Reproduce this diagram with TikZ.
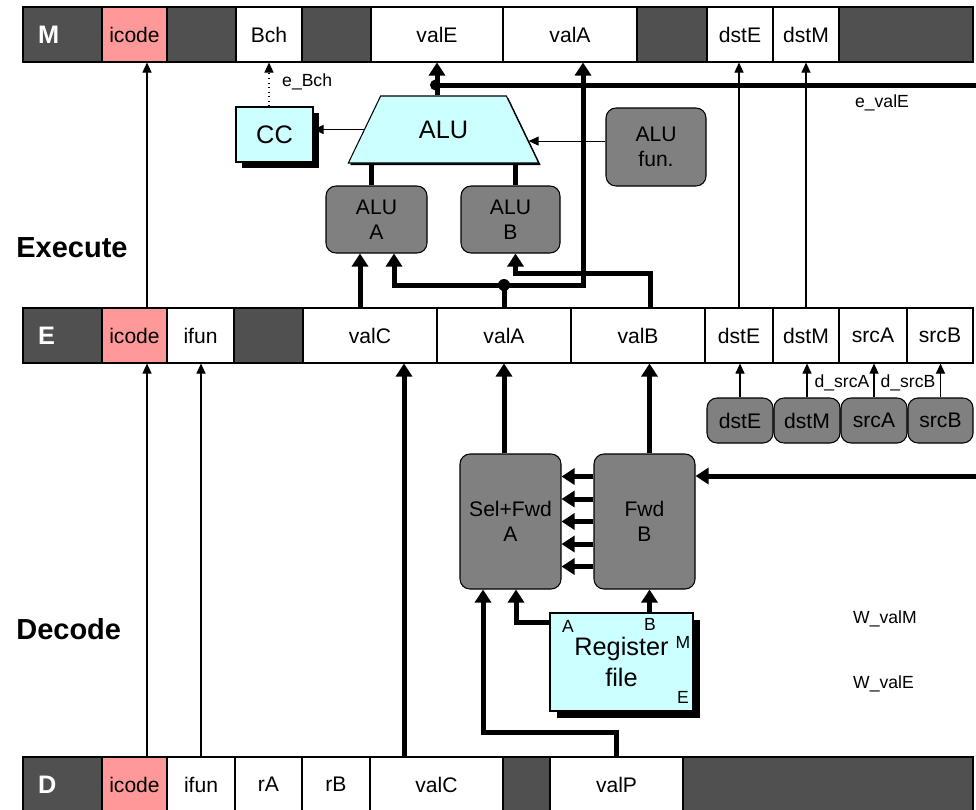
\documentclass[tikz,border=0pt]{standalone}
\usepackage{fontspec}
\setmainfont{Liberation Sans}
\usetikzlibrary{arrows.meta,shapes.geometric,shadows,calc}

\definecolor{regdark}{HTML}{505050}
\definecolor{regpink}{HTML}{FF9999}
\definecolor{logicgray}{HTML}{808080}
\definecolor{hwcyan}{HTML}{CCFFFF}

\begin{document}
\begin{tikzpicture}[
    x=0.2mm, y=-0.2mm,
    cell/.style={rectangle, draw=black, line width=0.6pt, fill=white, minimum height=11mm, inner sep=0pt, font=\large},
    darkcell/.style={cell, fill=regdark},
    pinkcell/.style={cell, fill=regpink},
    stage/.style={cell, fill=regdark, text=white, font=\Large\bfseries, text width=9.8mm, align=left, minimum width=15.8mm},
    logic/.style={rectangle, draw=black, line width=0.6pt, fill=logicgray, rounded corners=2mm, inner sep=0pt, align=center, font=\large},
    hw/.style={rectangle, draw=black, line width=0.6pt, fill=hwcyan, inner sep=0pt, align=center, font=\Large},
    sig/.style={line width=0.6pt, -{Triangle[width=1.8mm,length=2mm]}},
    bus/.style={line width=1mm, -{Triangle[width=3.2mm,length=2.6mm]}},
    wire/.style={line width=1mm},
    tag/.style={font=\normalsize, inner sep=0.5pt},
    phase/.style={font=\fontsize{16.5}{20}\selectfont\bfseries, anchor=west, inner sep=0pt}
]

% Background / page size
\path[use as bounding box, fill=white] (0,0) rectangle (976,809);

% M register
\node[stage] (Mlab) at (62.5,34.5) {M};
\node[pinkcell, minimum width=13mm] (Micode) at (134.5,34.5) {icode};
\node[darkcell, minimum width=13.8mm] (Mx1) at (201.5,34.5) {};
\node[cell, minimum width=13.2mm] (Mbch) at (269,34.5) {Bch};
\node[darkcell, minimum width=13.8mm] (Mx2) at (336.5,34.5) {};
\node[cell, minimum width=26.4mm] (MvalE) at (437,34.5) {valE};
\node[cell, minimum width=26.8mm] (MvalA) at (570,34.5) {valA};
\node[darkcell, minimum width=14mm] (Mx3) at (672,34.5) {};
\node[cell, minimum width=13.2mm] (MdstE) at (740,34.5) {dstE};
\node[cell, minimum width=13.2mm] (MdstM) at (806,34.5) {dstM};
\node[darkcell, minimum width=26.8mm] (Mx4) at (906,34.5) {};

% E register
\node[stage] (Elab) at (62.5,335.5) {E};
\node[pinkcell, minimum width=13mm] (Eicode) at (134.5,335.5) {icode};
\node[cell, minimum width=13.4mm] (Eifun) at (200.5,335.5) {ifun};
\node[darkcell, minimum width=13.8mm] (Ex1) at (268.5,335.5) {};
\node[cell, minimum width=26.8mm] (EvalC) at (370,335.5) {valC};
\node[cell, minimum width=26.8mm] (EvalA) at (504,335.5) {valA};
\node[cell, minimum width=26.8mm] (EvalB) at (638,335.5) {valB};
\node[cell, minimum width=13.6mm] (EdstE) at (739,335.5) {dstE};
\node[cell, minimum width=13.2mm] (EdstM) at (806,335.5) {dstM};
\node[cell, minimum width=13.6mm] (EsrcA) at (873,335.5) {srcA};
\node[cell, minimum width=13.2mm] (EsrcB) at (940,335.5) {srcB};

% D register
\node[stage] (Dlab) at (62.5,784.5) {D};
\node[pinkcell, minimum width=13mm] (Dicode) at (134.5,784.5) {icode};
\node[cell, minimum width=13.6mm] (Difun) at (201,784.5) {ifun};
\node[cell, minimum width=13.4mm] (DrA) at (268.5,784.5) {rA};
\node[cell, minimum width=13.6mm] (DrB) at (336,784.5) {rB};
\node[cell, minimum width=26.6mm] (DvalC) at (436.5,784.5) {valC};
\node[darkcell, minimum width=9.4mm] (Dx1) at (526.5,784.5) {};
\node[cell, minimum width=26.6mm] (DvalP) at (616.5,784.5) {valP};
\node[darkcell, minimum width=58mm] (Dx2) at (828,784.5) {};

% Stage names
\node[phase] (execute) at (16,248) {Execute};
\node[phase] (decode) at (16,629) {Decode};

% Execute logic
\node[trapezium, trapezium left angle=54.4, trapezium right angle=54.4, trapezium stretches=true,
      minimum width=38.2mm, minimum height=13.4mm, draw=black, line width=0.6pt, fill=hwcyan,
      inner sep=0pt, font=\Large, drop shadow={shadow xshift=0.4mm, shadow yshift=-0.4mm, fill=black, opacity=1}] (alu) at (443.5,129.5) {ALU};
\node[hw, minimum width=15.4mm, minimum height=11mm, drop shadow={shadow xshift=1.2mm, shadow yshift=-1.2mm, fill=black, opacity=1}] (cc) at (274.5,134.5) {CC};
\node[logic, minimum width=20mm, minimum height=15.6mm] (alufun) at (656,147) {ALU\\fun.};
\node[logic, minimum width=20.2mm, minimum height=13.4mm] (aluA) at (376.5,219.5) {ALU\\A};
\node[logic, minimum width=19.8mm, minimum height=13.4mm] (aluB) at (510.5,219.5) {ALU\\B};

% Decode logic
\node[logic, minimum width=13.2mm, minimum height=9mm] (dDstE) at (740,420.5) {dstE};
\node[logic, minimum width=13.2mm, minimum height=9mm] (dDstM) at (807,420.5) {dstM};
\node[logic, minimum width=13.2mm, minimum height=9mm] (dSrcA) at (874,420.5) {srcA};
\node[logic, minimum width=13mm, minimum height=9mm] (dSrcB) at (940.5,420.5) {srcB};
\node[logic, minimum width=20.2mm, minimum height=27mm] (selA) at (510.5,521.5) {Sel+Fwd\\A};
\node[logic, minimum width=20.2mm, minimum height=27mm] (fwdB) at (644.5,521.5) {Fwd\\B};
\node[hw, minimum width=28.6mm, minimum height=19.6mm, drop shadow={shadow xshift=1.3mm, shadow yshift=-1.4mm, fill=black, opacity=1}] (regfile) at (621.5,662) {Register\\file};
\node[tag] (portA) at (568,626) {A};
\node[tag] (portB) at (650,624) {B};
\node[tag] (portM) at (683,642) {M};
\node[tag] (portE) at (683,697) {E};

% Signal names
\node[tag, anchor=west] (ebch) at (281,82) {e\_Bch};
\node[tag] (evale) at (882,103) {e\_valE};
\node[tag] (dsrca) at (842,383) {d\_srcA};
\node[tag] (dsrcb) at (908,383) {d\_srcB};
\node[tag, anchor=west] (wvalm) at (852,619) {W\_valM};
\node[tag, anchor=west] (wvale) at (852,684) {W\_valE};

% D -> decode -> E
\draw[sig] ([xshift=2.5mm]Dicode.north) -- ([xshift=2.5mm]Eicode.south);
\draw[sig] (Difun.north) -- (Difun.north |- Eifun.south);
\draw[bus] ([xshift=-6.5mm]DvalC.north) -- ([xshift=-6.5mm]DvalC.north |- EvalC.south);
\draw[bus] (DvalP.north) -- ++(0,-24) -| ([xshift=-5.5mm]selA.south);
\draw[bus] ([yshift=8mm]regfile.west) -| ([xshift=1.1mm]selA.south);
\draw[bus] ([xshift=1mm]fwdB.south |- regfile.north) -- ([xshift=1mm]fwdB.south);
\draw[bus] ([yshift=9mm]fwdB.west) -- ([yshift=9mm]selA.east);
\draw[bus] ([yshift=4.5mm]fwdB.west) -- ([yshift=4.5mm]selA.east);
\draw[bus] (fwdB.west) -- (selA.east);
\draw[bus] ([yshift=-4.5mm]fwdB.west) -- ([yshift=-4.5mm]selA.east);
\draw[bus] ([yshift=-9mm]fwdB.west) -- ([yshift=-9mm]selA.east);
\coordinate (fwdIn) at (976,476);
\draw[bus] (fwdIn) -- (fwdIn -| fwdB.east);
\draw[bus] (selA.north -| EvalA.south) -- (EvalA.south);
\draw[bus] ([xshift=1mm]fwdB.north) -- ([xshift=1mm]fwdB.north |- EvalB.south);
\draw[sig] (dDstE.north) -- (dDstE.north |- EdstE.south);
\draw[sig] (dDstM.north) -- (dDstM.north |- EdstM.south);
\draw[sig] (dSrcA.north) -- (dSrcA.north |- EsrcA.south);
\draw[sig] (dSrcB.north) -- (dSrcB.north |- EsrcB.south);

% E -> execute -> M
\draw[bus] ([xshift=-2mm]EvalC.north) -- ([xshift=-2mm]EvalC.north |- aluA.south);
\coordinate (jA) at (504,285);
\draw[wire] (EvalA.north) -- (jA);
\draw[bus] (jA) -| ([xshift=3.5mm]aluA.south);
\draw[bus] (jA) -| ([xshift=2.6mm]MvalA.south);
\fill (jA) circle (1.2mm);
\draw[bus] ([xshift=2.4mm]EvalB.north) -- ++(0,-34) -| ([xshift=1mm]aluB.south);
\draw[wire] ([xshift=-1mm]aluA.north) -- ([xshift=-1mm]aluA.north |- alu.south);
\draw[wire] ([xshift=1mm]aluB.north) -- ([xshift=1mm]aluB.north |- alu.south);
\draw[bus] (alu.north -| MvalE.south) -- (MvalE.south);
\coordinate (jE) at (437,85);
\coordinate (eValE) at (976,85);
\draw[wire] (jE) -- (eValE);
\fill ([xshift=-0.3mm]jE) circle (1.1mm);
\draw[sig] (alu.west) -- (alu.west -| cc.east);
\coordinate (aluR) at ($(alu.top right corner)!0.67!(alu.bottom right corner)$);
\draw[sig] (alufun.west |- aluR) -- (aluR);
\draw[sig, dotted] (cc.north -| Mbch.south) -- (Mbch.south);
\draw[sig] ([xshift=2.5mm]Eicode.north) -- ([xshift=2.5mm]Micode.south);
\draw[sig] (EdstE.north) -- (EdstE.north |- MdstE.south);
\draw[sig] (EdstM.north) -- (EdstM.north |- MdstM.south);

\end{tikzpicture}
\end{document}
